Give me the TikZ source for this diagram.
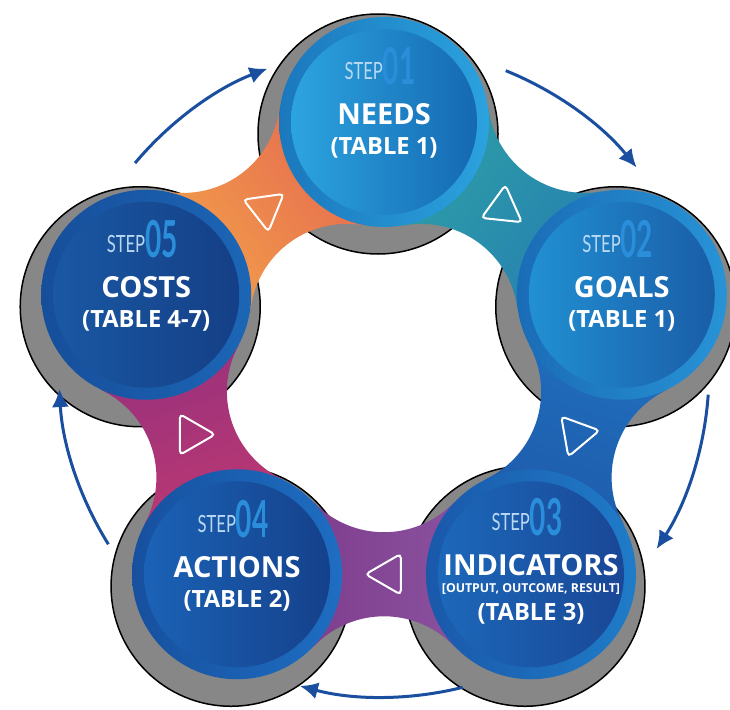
\documentclass[tikz,border=0pt]{standalone}
\usepackage{fontspec}
\setmainfont{Open Sans}
\newfontfamily\stepfont[FakeStretch=0.7]{Lato}
\newfontfamily\numfont[FakeStretch=0.55]{Lato}
\usetikzlibrary{calc,shapes.geometric,arrows.meta}
\definecolor{flowblue}{HTML}{1A4F9F}
\definecolor{shadowgrey}{HTML}{878787}
\definecolor{steplt}{HTML}{B9D9F2}
\definecolor{stepno}{HTML}{2A8EDA}
\newcommand{\stepword}[1]{{\color{steplt}\stepfont\fontsize{13.5}{14}\selectfont STEP}{\color{stepno}\numfont\bfseries\fontsize{29}{30}\selectfont\raisebox{-1mm}{#1}}}
\tikzset{
  steptag/.style={anchor=base,inner sep=0},
  title/.style={anchor=base,inner sep=0,text=white,font=\fontsize{16.5}{18}\selectfont\bfseries},
  tbl/.style={anchor=base,inner sep=0,text=white,font=\fontsize{13.5}{15}\selectfont\bfseries},
  subtbl/.style={anchor=base,inner sep=0,text=white,font=\fontsize{7}{8}\selectfont\bfseries},
  shadow/.style={fill=shadowgrey,draw=black,line width=0.3mm},
  tri/.style={draw=white,line width=0.4mm,rounded corners=0.8mm,regular polygon,regular polygon sides=3,minimum size=9.4mm,inner sep=0},
  flow/.style={draw=flowblue,line width=0.6mm,-{Latex[length=3.6mm,width=3.4mm]}},
  bandshape/.style={insert path={(-147,0)--(-70.5,72.4) arc[start angle=223.4,end angle=316.6,radius=97]--(147,0)--(70.5,-72.4) arc[start angle=43.4,end angle=136.6,radius=97]--cycle}},
}
\begin{document}
\begin{tikzpicture}[x=0.2mm,y=0.2mm]
\useasboundingbox (0,0) rectangle (730,709);
\coordinate (c) at (384,337);
\coordinate (s1) at ($(c)+(90:250)$);
\coordinate (s2) at ($(c)+(18:250)$);
\coordinate (s3) at ($(c)+(-54:250)$);
\coordinate (s4) at ($(c)+(-126:250)$);
\coordinate (s5) at ($(c)+(162:250)$);
\coordinate (m12) at ($(s1)!0.5!(s2)$);
\coordinate (m23) at ($(s2)!0.5!(s3)$);
\coordinate (m34) at ($(s3)!0.5!(s4)$);
\coordinate (m45) at ($(s4)!0.5!(s5)$);
\coordinate (m51) at ($(s5)!0.5!(s1)$);
% shadows
\draw[shadow] ([shift={(-6,-12)}]s1) circle[radius=120];
\draw[shadow] ([shift={(-6,-12)}]s2) circle[radius=120];
\draw[shadow] ([shift={(-6,-12)}]s3) circle[radius=120];
\draw[shadow] ([shift={(-6,-12)}]s4) circle[radius=120];
\draw[shadow] ([shift={(-6,-12)}]s5) circle[radius=120];
% bands
\begin{scope}[transform canvas={shift={(m12)},rotate=-36}]
\shade[left color={rgb,255:red,47;green,165;blue,165},right color={rgb,255:red,36;green,121;blue,178},bandshape];
\end{scope}
\begin{scope}[transform canvas={shift={(m23)},rotate=-108}]
\shade[left color={rgb,255:red,31;green,116;blue,194},right color={rgb,255:red,31;green,85;blue,166},bandshape];
\end{scope}
\begin{scope}[transform canvas={shift={(m34)},rotate=180}]
\shade[left color={rgb,255:red,142;green,91;blue,166},right color={rgb,255:red,122;green,52;blue,134},bandshape];
\end{scope}
\begin{scope}[transform canvas={shift={(m45)},rotate=108}]
\shade[left color={rgb,255:red,199;green,58;blue,111},right color={rgb,255:red,140;green,47;blue,128},bandshape];
\end{scope}
\begin{scope}[transform canvas={shift={(m51)},rotate=36}]
\shade[left color={rgb,255:red,245;green,171;blue,74},right color={rgb,255:red,227;green,95;blue,80},bandshape];
\end{scope}
% circles
\shade[left color={rgb,255:red,27;green,120;blue,188},right color={rgb,255:red,43;green,162;blue,222}] (s1) circle[radius=105];
\shade[left color={rgb,255:red,44;green,164;blue,224},right color={rgb,255:red,21;green,105;blue,178}] (s1) circle[radius=93];
\shade[left color={rgb,255:red,26;green,108;blue,182},right color={rgb,255:red,40;green,147;blue,214}] (s2) circle[radius=105];
\shade[left color={rgb,255:red,33;green,144;blue,211},right color={rgb,255:red,26;green,93;blue,167}] (s2) circle[radius=93];
\shade[left color={rgb,255:red,26;green,88;blue,170},right color={rgb,255:red,31;green,124;blue,200}] (s3) circle[radius=105];
\shade[left color={rgb,255:red,28;green,104;blue,186},right color={rgb,255:red,26;green,71;blue,150}] (s3) circle[radius=93];
\shade[left color={rgb,255:red,23;green,80;blue,159},right color={rgb,255:red,30;green,110;blue,194}] (s4) circle[radius=105];
\shade[left color={rgb,255:red,27;green,98;blue,182},right color={rgb,255:red,21;green,65;blue,139}] (s4) circle[radius=93];
\shade[left color={rgb,255:red,22;green,78;blue,154},right color={rgb,255:red,28;green,102;blue,182}] (s5) circle[radius=105];
\shade[left color={rgb,255:red,26;green,88;blue,163},right color={rgb,255:red,20;green,63;blue,134}] (s5) circle[radius=93];
% texts
\node[steptag] (p1) at ([shift={(-4,42)}]s1) {\stepword{01}};
\node[title] (h1) at ([shift={(0,-3)}]s1) {NEEDS};
\node[tbl] (k1) at ([shift={(0,-33)}]s1) {(TABLE 1)};
\node[steptag] (p2) at ([shift={(-4,42)}]s2) {\stepword{02}};
\node[title] (h2) at ([shift={(0,-3)}]s2) {GOALS};
\node[tbl] (k2) at ([shift={(0,-33)}]s2) {(TABLE 1)};
\node[steptag] (p3) at ([shift={(-4,44)}]s3) {\stepword{03}};
\node[title] (h3) at ([shift={(0,-1)}]s3) {INDICATORS};
\node[subtbl] (u3) at ([shift={(0,-18)}]s3) {[OUTPUT, OUTCOME, RESULT]};
\node[tbl] (k3) at ([shift={(0,-46)}]s3) {(TABLE 3)};
\node[steptag] (p4) at ([shift={(-4,42)}]s4) {\stepword{04}};
\node[title] (h4) at ([shift={(0,-3)}]s4) {ACTIONS};
\node[tbl] (k4) at ([shift={(0,-33)}]s4) {(TABLE 2)};
\node[steptag] (p5) at ([shift={(-4,42)}]s5) {\stepword{05}};
\node[title] (h5) at ([shift={(0,-3)}]s5) {COSTS};
\node[tbl] (k5) at ([shift={(0,-33)}]s5) {(TABLE 4-7)};
% triangles
\node[tri,rotate=-6] (t12) at (m12) {};
\node[tri,rotate=-80] (t23) at (m23) {};
\node[tri,rotate=90] (t34) at ([shift={(5,0)}]m34) {};
\node[tri,rotate=-90] (t45) at (m45) {};
\node[tri,rotate=-172] (t51) at (m51) {};
% arrows
\draw[flow] ([shift={(140:325)}]c) arc[start angle=140,end angle=111,radius=325];
\draw[flow] ([shift={(68:325)}]c) arc[start angle=68,end angle=39,radius=325];
\draw[flow] ([shift={(-4:325)}]c) arc[start angle=-4,end angle=-33,radius=325];
\draw[flow] ([shift={(-76:325)}]c) arc[start angle=-76,end angle=-105,radius=325];
\draw[flow] ([shift={(212:325)}]c) arc[start angle=212,end angle=183,radius=325];
\end{tikzpicture}
\end{document}
